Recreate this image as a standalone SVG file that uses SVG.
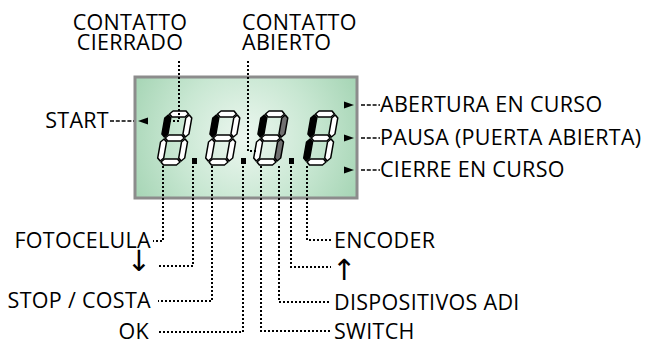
<svg xmlns="http://www.w3.org/2000/svg" width="654" height="342" viewBox="0 0 654 342">
<defs>
<radialGradient id="lcd" cx="245" cy="138" r="125" gradientUnits="userSpaceOnUse">
<stop offset="0" stop-color="#edf7f0"/>
<stop offset="0.55" stop-color="#c8e7d2"/>
<stop offset="1" stop-color="#a6d5b5"/>
</radialGradient>
</defs>
<style>
.t{font-family:"Open Sans","Liberation Sans",sans-serif;font-size:21.5px;font-weight:500;letter-spacing:0.3px;fill:#000}
.ar{font-family:"DejaVu Sans",sans-serif;font-size:29px;fill:#000}
.seg polygon{stroke:#000;stroke-width:1.5;stroke-linejoin:round;fill:#fff}
.seg .k{fill:#000}
.seg .gr{fill:#707070}
.dot{stroke:#000;stroke-width:2;stroke-dasharray:2 2;fill:none}
.dash{stroke:#000;stroke-width:1.4;stroke-dasharray:4 1.8;fill:none}
</style>
<g id="display">
<rect x="135" y="77" width="222" height="121" fill="url(#lcd)" stroke="#8c8c8c" stroke-width="3"/>
</g>
<g id="digit1" class="seg" transform="translate(166,111) skewX(-10)">
<polygon points="4,3 7,0 20,0 23,3 20,6 7,6"/>
<polygon class="k" points="3,4 6,7 6,23 3,26 0,23 0,7"/>
<polygon points="24,4 27,7 27,23 24,26 21,23 21,7"/>
<polygon points="4,27 7,24 20,24 23,27 20,30 7,30"/>
<polygon points="3,28 6,31 6,47 3,50 0,47 0,31"/>
<polygon points="24,28 27,31 27,47 24,50 21,47 21,31"/>
<polygon points="4,51 7,48 20,48 23,51 20,54 7,54"/>
</g>
<g id="digit2" class="seg" transform="translate(214,111) skewX(-10)">
<polygon points="4,3 7,0 20,0 23,3 20,6 7,6"/>
<polygon class="k" points="3,4 6,7 6,23 3,26 0,23 0,7"/>
<polygon points="24,4 27,7 27,23 24,26 21,23 21,7"/>
<polygon points="4,27 7,24 20,24 23,27 20,30 7,30"/>
<polygon points="3,28 6,31 6,47 3,50 0,47 0,31"/>
<polygon points="24,28 27,31 27,47 24,50 21,47 21,31"/>
<polygon points="4,51 7,48 20,48 23,51 20,54 7,54"/>
</g>
<g id="digit3" class="seg" transform="translate(262,111) skewX(-10)">
<polygon points="4,3 7,0 20,0 23,3 20,6 7,6"/>
<polygon class="k" points="3,4 6,7 6,23 3,26 0,23 0,7"/>
<polygon class="gr" points="24,4 27,7 27,23 24,26 21,23 21,7"/>
<polygon points="4,27 7,24 20,24 23,27 20,30 7,30"/>
<polygon points="3,28 6,31 6,47 3,50 0,47 0,31"/>
<polygon class="gr" points="24,28 27,31 27,47 24,50 21,47 21,31"/>
<polygon points="4,51 7,48 20,48 23,51 20,54 7,54"/>
</g>
<g id="digit4" class="seg" transform="translate(312,111) skewX(-10)">
<polygon points="4,3 7,0 20,0 23,3 20,6 7,6"/>
<polygon class="k" points="3,4 6,7 6,23 3,26 0,23 0,7"/>
<polygon points="24,4 27,7 27,23 24,26 21,23 21,7"/>
<polygon points="4,27 7,24 20,24 23,27 20,30 7,30"/>
<polygon class="k" points="3,28 6,31 6,47 3,50 0,47 0,31"/>
<polygon points="24,28 27,31 27,47 24,50 21,47 21,31"/>
<polygon points="4,51 7,48 20,48 23,51 20,54 7,54"/>
</g>
<g id="dots">
<rect x="192" y="158" width="5" height="6" fill="#000"/>
<rect x="241" y="158" width="5" height="6" fill="#000"/>
<rect x="289" y="158" width="5" height="6" fill="#000"/>
</g>
<g id="indicators" fill="#000">
<polygon points="138,121 148,117.5 148,124.5"/>
<polygon points="354,105 344,101.5 344,108.5"/>
<polygon points="354,138 344,134.5 344,141.5"/>
<polygon points="354,170 344,166.5 344,173.5"/>
</g>
<g id="connectors">
<polyline class="dot" points="179,61 179,121 169,121"/>
<polyline class="dot" points="248,61 248,151 257,151"/>
<line class="dash" x1="110" y1="121" x2="134" y2="121"/>
<line class="dash" x1="361" y1="105" x2="380" y2="105"/>
<line class="dash" x1="361" y1="138" x2="380" y2="138"/>
<line class="dash" x1="361" y1="170" x2="380" y2="170"/>
<polyline class="dot" points="163,166 163,241 153,241"/>
<polyline class="dot" points="193,166 193,266 157,266"/>
<polyline class="dot" points="212,166 212,301 158,301"/>
<polyline class="dot" points="243,166 243,332 158,332"/>
<polyline class="dot" points="261,166 261,331 331,331"/>
<polyline class="dot" points="279,166 279,302 331,302"/>
<polyline class="dot" points="291,166 291,267 331,267"/>
<polyline class="dot" points="307,166 307,240 331,240"/>
</g>
<g id="labels">
<text class="t" x="130" y="30" text-anchor="middle">CONTATTO</text>
<text class="t" x="130" y="50" text-anchor="middle">CIERRADO</text>
<text class="t" x="242" y="30">CONTATTO</text>
<text class="t" x="242" y="50">ABIERTO</text>
<text class="t" x="109" y="128" text-anchor="end">START</text>
<text class="t" x="380" y="112">ABERTURA EN CURSO</text>
<text class="t" x="380" y="145">PAUSA (PUERTA ABIERTA)</text>
<text class="t" x="380" y="177">CIERRE EN CURSO</text>
<text class="t" x="151" y="248" text-anchor="end">FOTOCELULA</text>
<text class="ar" x="151" y="271" text-anchor="end">↓</text>
<text class="t" x="151" y="308" text-anchor="end">STOP / COSTA</text>
<text class="t" x="149" y="338.5" text-anchor="end">OK</text>
<text class="t" x="334" y="248">ENCODER</text>
<text class="ar" x="332" y="280">↑</text>
<text class="t" x="334" y="310">DISPOSITIVOS ADI</text>
<text class="t" x="334" y="338.5">SWITCH</text>
</g>
</svg>
